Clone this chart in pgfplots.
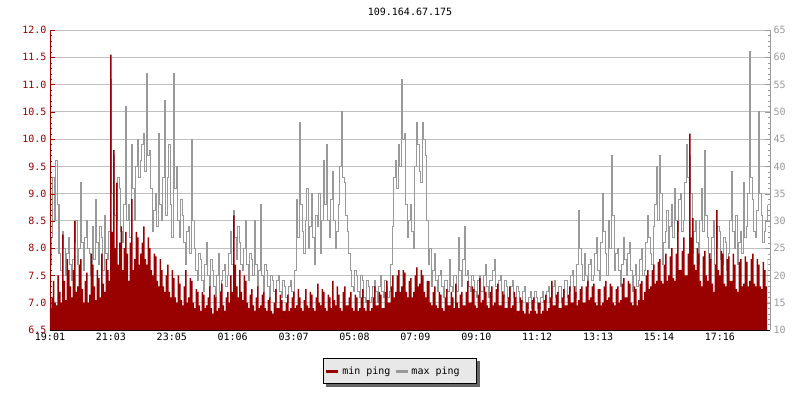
\documentclass[border=0pt]{standalone}
\usepackage{fontspec}
\setmainfont{DejaVu Sans Mono}
\usepackage{pgfplots}
\pgfplotsset{compat=1.18}
\usepackage{pgfplotstable}
\pgfdeclarelayer{background}
\pgfsetlayers{background,main}
\definecolor{minred}{HTML}{990000}
\definecolor{maxgray}{HTML}{999999}
\definecolor{gridgray}{HTML}{C0C0C0}
\definecolor{legbg}{HTML}{E8E8E8}
\definecolor{shadowgray}{HTML}{666666}

\pgfplotstableread{
p mn mx
0 6.90 22
1.5 7.10 27
3 7.40 38
4.5 7.00 30
6 6.95 41
7.5 7.50 33
9 7.20 24
10.5 7.00 21
12 8.25 28
13.5 7.40 25
15 7.05 20
16.5 7.80 24
18 7.60 27
19.5 7.30 22
21 7.10 19
22.5 7.60 23
24 8.50 26
25.5 7.20 30
27 7.30 22
28.5 7.70 25
30 7.80 37
31.5 7.25 26
33 7.00 21
34.5 7.40 27
36 7.55 30
37.5 7.00 25
39 7.15 24
40.5 7.90 20
42 7.70 29
43.5 7.30 23
45 7.05 34
46.5 7.60 26
48 7.45 22
49.5 7.10 29
51 7.90 27
52.5 7.35 21
54 7.20 31
55.5 7.80 24
57 7.60 23
58.5 7.40 28
60 11.55 56
61.5 8.30 35
63 9.80 42
64.5 8.00 31
66 9.20 30
67.5 7.70 38
69 8.10 36
70.5 8.40 28
72 7.60 26
73.5 8.00 33
75 8.30 51
76.5 7.90 30
78 7.40 33
79.5 8.10 27
81 8.90 44
82.5 7.60 36
84 7.80 30
85.5 8.30 40
87 8.20 45
88.5 7.70 38
90 7.90 41
91.5 8.10 44
93 8.40 46
94.5 7.80 39
96 7.70 57
97.5 8.20 42
99 8.00 43
100.5 7.60 36
102 7.50 28
103.5 7.90 32
105 7.85 35
106.5 7.40 29
108 7.30 46
109.5 7.80 33
111 7.60 30
112.5 7.30 38
114 7.20 52
115.5 7.50 31
117 7.70 38
118.5 7.20 44
120 7.10 33
121.5 7.60 27
123 7.45 57
124.5 7.10 36
126 7.00 40
127.5 7.50 30
129 7.35 27
130.5 7.05 34
132 6.95 31
133.5 7.30 26
135 7.60 22
136.5 7.00 28
138 7.10 29
139.5 7.45 24
141 7.40 45
142.5 7.00 30
144 6.90 25
145.5 7.25 21
147 7.20 19
148.5 6.95 24
150 6.85 23
151.5 7.20 19
153 7.15 17
154.5 6.90 22
156 6.95 26
157.5 7.10 20
159 7.30 18
160.5 6.90 23
162 6.80 21
163.5 7.15 18
165 7.10 16
166.5 6.85 20
168 6.90 24
169.5 7.20 17
171 7.35 19
172.5 6.95 21
174 6.85 22
175.5 7.10 18
177 7.20 20
178.5 7.00 24
180 7.50 28
181.5 7.20 22
183 8.60 32
184.5 7.70 27
186 7.30 23
187.5 7.10 29
189 7.60 26
190.5 7.20 22
192 7.05 21
193.5 7.50 25
195 7.40 30
196.5 7.00 22
198 6.90 19
199.5 7.15 24
201 7.25 23
202.5 6.95 20
204 6.85 30
205.5 7.10 22
207 7.30 18
208.5 6.90 21
210 6.95 33
211.5 7.15 20
213 7.20 17
214.5 6.90 22
216 6.85 21
217.5 7.05 18
219 7.10 16
220.5 6.85 20
222 6.80 19
223.5 7.00 17
225 7.25 15
226.5 6.90 19
228 6.90 20
229.5 7.15 17
231 7.05 16
232.5 6.85 19
234 6.85 18
235.5 7.00 16
237 7.15 15
238.5 6.85 18
240 6.90 19
241.5 7.10 17
243 7.20 16
244.5 6.90 21
246 6.95 34
247.5 7.25 27
249 7.10 48
250.5 6.90 33
252 6.85 28
253.5 7.05 24
255 7.25 30
256.5 6.95 36
258 6.90 25
259.5 7.20 29
261 7.15 35
262.5 6.90 27
264 6.85 22
265.5 7.10 31
267 7.35 29
268.5 7.00 35
270 6.95 24
271.5 7.25 30
273 7.20 41
274.5 6.90 33
276 6.85 44
277.5 7.15 30
279 7.10 27
280.5 6.90 34
282 7.40 39
283.5 7.05 30
285 6.95 25
286.5 7.30 28
288 7.15 33
289.5 6.90 40
291 6.85 50
292.5 7.20 38
294 7.30 37
295.5 6.95 31
297 6.95 28
298.5 7.10 24
300 7.20 21
301.5 6.90 18
303 6.85 17
304.5 7.15 21
306 7.10 20
307.5 6.85 17
309 6.90 16
310.5 7.10 20
312 7.25 19
313.5 6.90 16
315 6.85 15
316.5 7.05 19
318 7.05 18
319.5 6.85 15
321 6.90 16
322.5 7.10 18
324 7.30 19
325.5 6.95 17
327 6.95 15
328.5 7.20 18
330 7.15 20
331.5 6.90 17
333 6.90 16
334.5 7.20 19
336 7.40 18
337.5 7.00 16
339 7.00 17
340.5 7.30 22
342 7.50 29
343.5 7.10 38
345 7.20 41
346.5 7.50 36
348 7.60 44
349.5 7.20 40
351 7.30 56
352.5 7.60 45
354 7.55 46
355.5 7.20 33
357 7.10 27
358.5 7.40 30
360 7.45 33
361.5 7.10 28
363 7.20 25
364.5 7.50 40
366 7.65 48
367.5 7.30 44
369 7.35 39
370.5 7.60 37
372 7.50 48
373.5 7.20 45
375 7.10 42
376.5 7.40 30
378 7.40 22
379.5 7.00 25
381 6.95 18
382.5 7.20 21
384 7.30 24
385.5 6.95 19
387 6.90 17
388.5 7.20 20
390 7.15 21
391.5 6.90 18
393 6.85 16
394.5 7.10 19
396 7.25 19
397.5 6.95 17
399 6.95 23
400.5 7.20 18
402 7.10 17
403.5 6.90 20
405 7.35 20
406.5 7.00 17
408 6.90 27
409.5 7.15 21
411 7.20 18
412.5 6.95 23
414 6.95 29
415.5 7.20 20
417 7.40 21
418.5 7.00 18
420 7.00 17
421.5 7.30 20
423 7.25 19
424.5 6.95 17
426 6.90 16
427.5 7.15 19
429 7.45 20
430.5 7.00 17
432 7.05 17
433.5 7.30 20
435 7.20 22
436.5 6.95 18
438 6.90 16
439.5 7.20 19
441 7.30 19
442.5 6.95 21
444 7.00 23
445.5 7.25 18
447 7.35 17
448.5 6.95 19
450 6.95 20
451.5 7.20 17
453 7.15 16
454.5 6.90 19
456 6.90 18
457.5 7.10 16
459 7.30 15
460.5 6.90 18
462 6.95 19
463.5 7.20 16
465 7.10 16
466.5 6.85 18
468 6.85 17
469.5 7.10 15
471 7.05 15
472.5 6.85 17
474 6.80 18
475.5 7.00 15
477 7.00 14
478.5 6.80 16
480 6.85 17
481.5 7.05 14
483 7.10 15
484.5 6.85 17
486 6.80 16
487.5 7.00 14
489 7.00 14
490.5 6.80 16
492 6.85 17
493.5 7.05 15
495 7.15 15
496.5 6.85 17
498 6.90 18
499.5 7.10 15
501 7.40 16
502.5 6.95 18
504 6.95 19
505.5 7.15 16
507 7.20 15
508.5 6.90 18
510 6.90 18
511.5 7.10 15
513 7.25 16
514.5 6.95 19
516 6.95 19
517.5 7.15 16
519 7.30 17
520.5 7.00 20
522 7.00 21
523.5 7.30 18
525 7.20 16
526.5 6.95 22
528 7.05 32
529.5 7.25 25
531 7.30 22
532.5 7.00 19
534 7.00 24
535.5 7.30 20
537 7.40 18
538.5 7.05 22
540 7.10 23
541.5 7.30 19
543 7.35 20
544.5 7.00 24
546 6.95 27
547.5 7.25 21
549 7.25 19
550.5 6.95 26
552 7.00 35
553.5 7.30 28
555 7.40 24
556.5 7.05 20
558 7.10 30
559.5 7.35 25
561 7.30 42
562.5 7.00 31
564 6.95 21
565.5 7.25 24
567 7.30 25
568.5 7.00 21
570 7.05 18
571.5 7.35 22
573 7.45 27
574.5 7.10 23
576 7.10 20
577.5 7.40 24
579 7.35 26
580.5 7.00 21
582 6.95 17
583.5 7.30 20
585 7.25 22
586.5 6.95 18
588 7.05 19
589.5 7.35 23
591 7.40 25
592.5 7.05 20
594 7.20 21
595.5 7.50 26
597 7.60 31
598.5 7.25 27
600 7.30 24
601.5 7.60 22
603 7.70 29
604.5 7.35 33
606 7.40 40
607.5 7.75 30
609 7.80 42
610.5 7.40 35
612 7.35 22
613.5 7.70 26
615 7.90 28
616.5 7.40 32
618 7.50 25
619.5 7.85 29
621 8.00 33
622.5 7.45 27
624 7.40 36
625.5 7.90 30
627 8.50 28
628.5 7.60 34
630 7.60 35
631.5 7.95 28
633 8.20 30
634.5 7.50 37
636 7.50 44
637.5 7.90 38
639 10.10 42
640.5 8.20 35
642 8.55 24
643.5 7.70 28
645 7.60 30
646.5 8.00 26
648 7.90 22
649.5 7.40 30
651 7.30 36
652.5 7.85 28
654 7.95 43
655.5 7.50 31
657 7.40 27
658.5 7.90 24
660 7.80 23
661.5 7.35 27
663 7.20 30
664.5 7.70 22
666 8.70 25
667.5 7.60 29
669 7.50 28
670.5 7.95 23
672 7.90 22
673.5 7.35 27
675 7.30 26
676.5 7.80 21
678 7.85 24
679.5 7.40 30
681 7.40 39
682.5 7.90 28
684 7.70 25
685.5 7.25 31
687 7.20 22
688.5 7.75 26
690 7.80 28
691.5 7.30 24
693 7.35 37
694.5 7.85 27
696 7.75 29
697.5 7.30 35
699 7.40 61
700.5 7.80 38
702 7.90 34
703.5 7.35 28
705 7.30 27
706.5 7.80 32
708 7.70 50
709.5 7.30 35
711 7.25 31
712.5 7.75 26
714 7.60 28
715.5 7.30 30
717 7.80 33
}\pingdata

\begin{document}
\begin{tikzpicture}[x=1pt,y=1pt,font=\fontsize{10}{12}\selectfont]
% frame of the whole picture: axis box lower-left is the origin
\path (-50,-70) rectangle (750,330);
\node at (360,318) {109.164.67.175};
% right axis: max ping (gray), grid
\begin{axis}[
  scale only axis,
  width=720pt, height=300pt,
  xmin=0, xmax=720, ymin=10, ymax=65,
  axis x line=none, axis y line*=right,
  y axis line style={-, maxgray},
  ytick={10,15,...,65}, minor y tick num=4,
  tick align=inside, major tick length=5pt, minor tick length=2.5pt,
  ytick style={maxgray},
  yticklabel style={text=maxgray, font=\fontsize{10}{12}\selectfont},
  /pgf/number format/assume math mode=true,
  ymajorgrids, major grid style={gridgray, line width=1pt},
]
\addplot[const plot, maxgray, line width=1pt] table[x=p,y=mx]{\pingdata};
\end{axis}
% left axis: min ping (red area)
\begin{axis}[
  scale only axis,
  width=720pt, height=300pt,
  xmin=0, xmax=720, ymin=6.5, ymax=12,
  axis x line*=bottom, axis y line*=left,
  x axis line style={-, black},
  y axis line style={-, minred},
  xtick={0,60.9,121.8,182.7,243.6,304.5,365.4,426.3,487.2,548.1,609,669.9},
  xticklabels={19:01,21:03,23:05,01:06,03:07,05:08,07:09,09:10,11:12,13:13,15:14,17:16},
  ytick={6.5,7,...,12}, minor y tick num=4,
  tick align=inside, major tick length=5pt, minor tick length=2.5pt,
  xtick style={black}, ytick style={minred},
  yticklabel style={text=minred, font=\fontsize{10}{12}\selectfont,
    /pgf/number format/.cd, fixed, fixed zerofill, precision=1},
  xticklabel style={font=\fontsize{10}{12}\selectfont},
  /pgf/number format/assume math mode=true,
  legend columns=2,
  legend style={name=leg, at={(axis description cs:0.486,-0.137)}, anchor=center,
    draw=black, fill=legbg, line width=1pt,
    inner xsep=3pt, inner ysep=6pt,
    nodes={inner xsep=2pt, inner ysep=2pt},
    font=\fontsize{10}{12}\selectfont,
    /tikz/every odd column/.append style={column sep=2pt},
    /tikz/every even column/.append style={column sep=3pt}},
  legend image code/.code={\fill[#1] (0pt,-1.1pt) rectangle (11pt,1.1pt);},
]
\addplot[const plot, fill=minred, draw=none, forget plot] table[x=p,y=mn]{\pingdata} \closedcycle;
\addlegendimage{minred}
\addlegendentry{min ping}
\addlegendimage{maxgray}
\addlegendentry{\makebox[60pt][l]{max ping}}
\end{axis}
\begin{pgfonlayer}{background}
\fill[shadowgray] ([xshift=3pt,yshift=-3pt]leg.south west) rectangle ([xshift=3pt,yshift=-3pt]leg.north east);
\end{pgfonlayer}
\end{tikzpicture}
\end{document}
